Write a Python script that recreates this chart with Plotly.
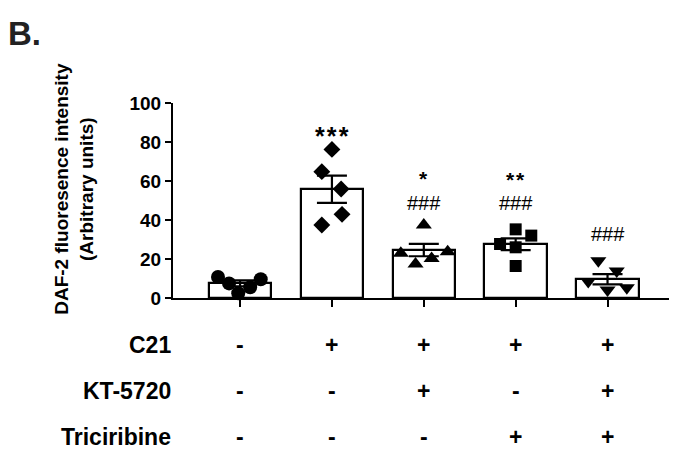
import plotly.graph_objects as go

# ---------------- data ----------------
groups = ["Control", "C21", "C21+KT-5720", "C21+Triciribine", "C21+KT-5720+Triciribine"]
means = [7.5, 55.8, 24.6, 27.6, 9.6]
sems = [1.5, 7.0, 3.2, 3.0, 2.6]

pts_control = [10.8, 7.5, 2.4, 5.5, 9.6]
pts_c21 = [76.2, 64.8, 55.9, 42.9, 37.4]
pts_c21_kt = [37.4, 22.9, 17.4, 20.3, 23.7]
pts_c21_tri = [35.2, 32.0, 27.7, 26.0, 16.4]
pts_c21_kt_tri = [19.1, 13.8, 8.4, 4.1, 5.3]

sig_star = ["", "*\u200a*\u200a*", "*", "*\u200a*", ""]
sig_hash = ["", "", "###", "###", "###"]

row_labels = ["C21", "KT-5720", "Triciribine"]
row_c21 = ["-", "+", "+", "+", "+"]
row_kt = ["-", "-", "+", "-", "+"]
row_tri = ["-", "-", "-", "+", "+"]

y_ticks = [0, 20, 40, 60, 80, 100]
y_title = "DAF-2 fluoresence intensity<br>(Arbitrary units)"
panel_label = "B."

# ---------------- styling / layout ----------------
FONT = "Liberation Sans, Arial, sans-serif"
jitter = [
    [-0.24, -0.12, -0.02, 0.11, 0.225],
    [0.0, -0.11, 0.10, 0.11, -0.11],
    [0.0, -0.25, -0.09, 0.085, 0.26],
    [0.0, 0.17, -0.17, 0.0, 0.0],
    [-0.10, 0.10, -0.21, 0.0, 0.21],
]
symbols = ["circle", "diamond", "triangle-up", "square", "triangle-down"]
sizes = [14, 13, 14, 12, 14]
star_size = [25, 25, 21, 21, 21]
star_shift = [0, 40, 65, 59, 0]
hash_shift = [0, 0, 41, 35, 40]
all_pts = [pts_control, pts_c21, pts_c21_kt, pts_c21_tri, pts_c21_kt_tri]

xpos = list(range(len(groups)))

fig = go.Figure()
fig.add_trace(go.Bar(
    x=xpos, y=means, width=0.68,
    marker=dict(color="white", line=dict(color="black", width=2.2)),
    error_y=dict(type="data", array=sems, symmetric=True, color="black",
                 thickness=2.2, width=15),
    showlegend=False, cliponaxis=False,
))

for i, vals in enumerate(all_pts):
    fig.add_trace(go.Scatter(
        x=[xpos[i] + j for j in jitter[i]], y=vals, mode="markers",
        marker=dict(symbol=symbols[i], size=sizes[i], color="black",
                    line=dict(width=0)),
        showlegend=False, cliponaxis=False,
    ))

annotations = []
# significance marks
for i in range(len(groups)):
    if sig_star[i]:
        annotations.append(dict(x=xpos[i], y=means[i] + sems[i], xref="x", yref="y",
                                text=sig_star[i], showarrow=False, yanchor="middle",
                                yshift=star_shift[i], borderpad=0,
                                font=dict(family=FONT, size=star_size[i], color="black",
                                          weight="bold")))
    if sig_hash[i]:
        annotations.append(dict(x=xpos[i], y=means[i] + sems[i], xref="x", yref="y",
                                text=sig_hash[i], showarrow=False, yanchor="middle",
                                yshift=hash_shift[i], borderpad=0,
                                font=dict(family=FONT, size=20, color="black")))

# treatment table
row_vals = [row_c21, row_kt, row_tri]
row_y = [-0.241, -0.477, -0.713]
for r, (lab, vals) in enumerate(zip(row_labels, row_vals)):
    annotations.append(dict(x=0, xref="paper", y=row_y[r], yref="paper", text=lab,
                            showarrow=False, xanchor="right", yanchor="middle", xshift=0,
                            font=dict(family=FONT, size=23, color="black", weight="bold")))
    for i, v in enumerate(vals):
        annotations.append(dict(x=xpos[i], xref="x", y=row_y[r], yref="paper", text=v,
                                showarrow=False, xanchor="center", yanchor="middle",
                                font=dict(family=FONT, size=23, color="black", weight="bold")))

# y-axis title
annotations.append(dict(x=0, xref="paper", y=0.56, yref="paper", text=y_title,
                        showarrow=False, textangle=-90, xanchor="center", yanchor="middle",
                        xshift=-99,
                        font=dict(family=FONT, size=19, color="black", weight="bold")))
# panel label
annotations.append(dict(x=0, xref="paper", y=1, yref="paper", text=panel_label,
                        showarrow=False, xanchor="left", yanchor="middle",
                        xshift=-167, yshift=70,
                        font=dict(family=FONT, size=33, color="#222222", weight="bold")))

fig.update_layout(
    width=669, height=455, autosize=False,
    margin=dict(l=165, r=7, t=95, b=165),
    paper_bgcolor="white", plot_bgcolor="white",
    font=dict(family=FONT, color="black"),
    bargap=0, annotations=annotations,
    xaxis=dict(range=[-0.73, 4.68], showline=True, linewidth=2.2, linecolor="black",
               ticks="outside", ticklen=7, tickwidth=2.2, tickcolor="black",
               tickvals=xpos, showticklabels=False, showgrid=False, zeroline=False),
    yaxis=dict(range=[0, 100], showline=True, linewidth=2.2, linecolor="black",
               ticks="outside", ticklen=6, tickwidth=2.2, tickcolor="black",
               tickvals=y_ticks, ticktext=[str(t) for t in y_ticks],
               tickfont=dict(family=FONT, size=19, color="black", weight="bold"),
               showgrid=False, zeroline=False),
)

fig.write_html("out.html")
